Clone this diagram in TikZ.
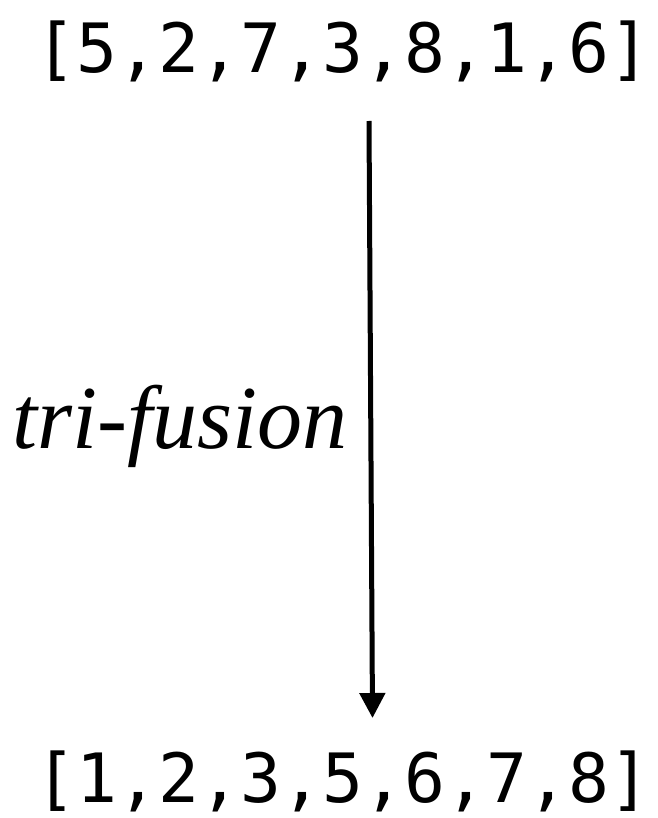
\documentclass[tikz,border=0pt]{standalone}
\usepackage{fontspec}
\setmonofont{DejaVu Sans Mono}
\setmainfont{Liberation Serif}
\usetikzlibrary{arrows.meta}
\begin{document}
\begin{tikzpicture}[x=1pt,y=1pt,
  listtext/.style={inner sep=0pt,anchor=base,font=\fontsize{68}{68}\selectfont\ttfamily},
  labeltext/.style={inner sep=0pt,anchor=base west,font=\fontsize{90}{90}\selectfont\itshape},
  arrowline/.style={line width=5pt,-{Triangle[length=25pt,width=25pt]}}]
\useasboundingbox (0,0) rectangle (657,-818);
\node[listtext] (top) at (343,-73) {[5,2,7,3,8,1,6]};
\node[listtext] (bot) at (343,-802) {[1,2,3,5,6,7,8]};
\coordinate (a) at (369,-121);
\coordinate (b) at (372.5,-718);
\draw[arrowline] (a) -- (b);
\node[labeltext] (lab) at (12,-448) {tri-fusion};
\end{tikzpicture}
\end{document}
